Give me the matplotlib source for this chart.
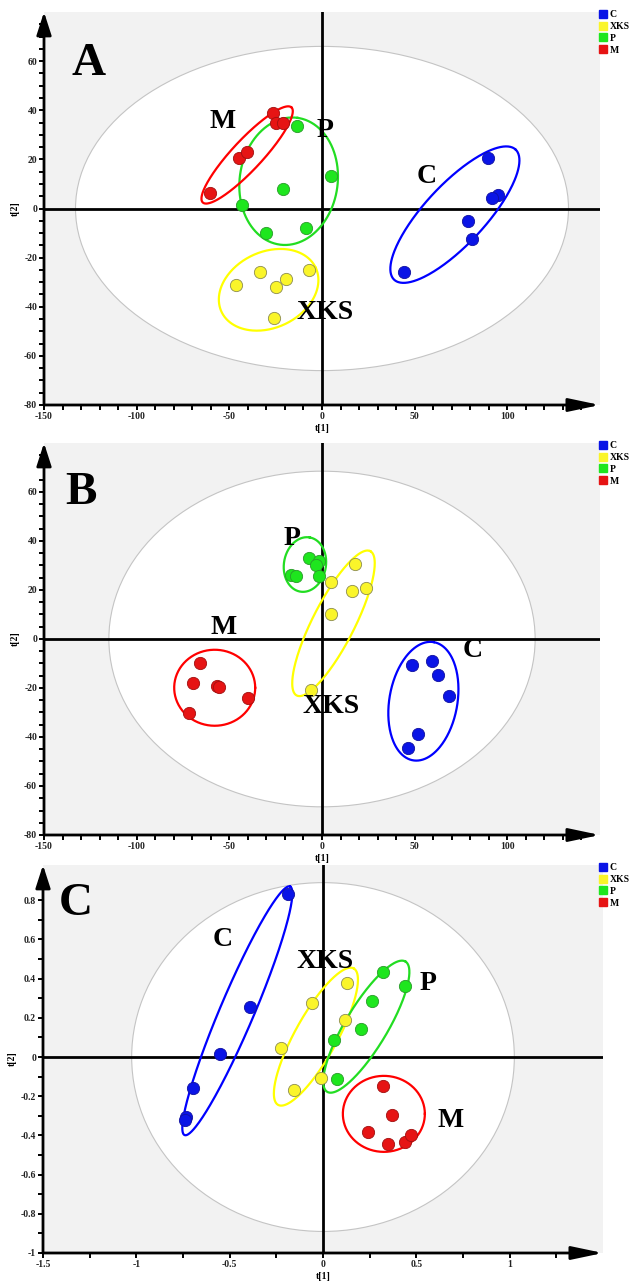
import numpy as np
import matplotlib
matplotlib.use("Agg")
import matplotlib.pyplot as plt
from matplotlib.patches import Ellipse
from matplotlib.lines import Line2D

plt.rcParams['font.family'] = ['Liberation Serif', 'DejaVu Serif']

# =================================================
# Data (scores)
# =================================================
groups = ["C", "XKS", "P", "M"]

# panel A
a_C_x = [89.7, 95.2, 91.9, 78.7, 80.9, 44.4]
a_C_y = [20.7, 5.6, 4.2, -5.0, -12.6, -25.7]
a_XKS_x = [-46.6, -33.6, -24.6, -19.6, -7.0, -25.7]
a_XKS_y = [-31.2, -25.7, -32.1, -28.9, -25.1, -44.7]
a_P_x = [-13.6, 4.8, -20.9, -42.9, -30.3, -8.8]
a_P_y = [33.6, 13.3, 8.1, 1.4, -9.8, -8.1]
a_M_x = [-60.4, -45.0, -40.2, -26.4, -24.6, -20.9]
a_M_y = [6.5, 20.7, 23.0, 38.7, 35.0, 35.0]

# panel B
b_C_x = [48.7, 59.2, 62.5, 68.4, 52.0, 46.6]
b_C_y = [-10.8, -8.8, -14.5, -23.4, -38.9, -44.4]
b_XKS_x = [17.7, 5.0, 16.0, 23.8, 5.0, -5.9]
b_XKS_y = [30.5, 23.4, 19.6, 20.7, 10.4, -21.0]
b_P_x = [-7.0, -1.5, -3.3, -16.8, -14.2, -1.5]
b_P_y = [33.2, 31.8, 30.2, 26.0, 25.7, 25.7]
b_M_x = [-65.8, -69.7, -56.6, -55.5, -39.8, -71.7]
b_M_y = [-9.8, -18.0, -19.0, -19.6, -24.0, -30.1]

# panel C
c_C_x = [-0.185, -0.391, -0.554, -0.696, -0.733, -0.737]
c_C_y = [0.834, 0.255, 0.014, -0.158, -0.306, -0.323]
c_XKS_x = [0.130, -0.059, 0.120, -0.224, -0.011, -0.157]
c_XKS_y = [0.380, 0.277, 0.187, 0.048, -0.106, -0.167]
c_P_x = [0.320, 0.441, 0.261, 0.202, 0.061, 0.076]
c_P_y = [0.434, 0.363, 0.284, 0.145, 0.085, -0.111]
c_M_x = [0.322, 0.370, 0.239, 0.348, 0.441, 0.474]
c_M_y = [-0.148, -0.298, -0.383, -0.443, -0.434, -0.397]

# group labels (x, y)
a_label_pos = {"C": (56.5, 12.9), "XKS": (1.8, -42.3), "P": (1.8, 31.6), "M": (-53.8, 35.6)}
b_label_pos = {"C": (81.5, -4.7), "XKS": (5.0, -27.4), "P": (-16.4, 41.0), "M": (-52.9, 4.7)}
c_label_pos = {"C": (-0.537, 0.601), "XKS": (0.011, 0.485), "P": (0.561, 0.374), "M": (0.685, -0.323)}

# group ellipses: centre (data), semi axes (px), angle (deg on screen)
a_ell = {"C": (71.7, -2.5, 89, 30, 47), "XKS": (-28.8, -33.1, 52, 38, 25),
         "P": (-18.0, 11.1, 64, 49, 82), "M": (-40.4, 21.8, 65, 15, 47)}
b_ell = {"C": (54.7, -25.4, 60, 34, 80), "XKS": (6.2, 6.4, 81, 21, 63),
         "P": (-9.2, 30.4, 27.5, 21, 80), "M": (-57.9, -19.9, 40.5, 38, 0)}
c_ell = {"C": (-0.459, 0.236, 135, 17, 67), "XKS": (-0.038, 0.104, 78, 21, 61),
         "P": (0.232, 0.155, 76, 21, 59), "M": (0.326, -0.290, 41, 38, 0)}

# Hotelling T2 ellipse half widths
a_t2 = (133, 66)
b_t2 = (115, 68.5)
c_t2 = (1.025, 0.89)

face = {"C": "#0a14e6", "XKS": "#faf52a", "P": "#1ee61e", "M": "#e61414"}
edge = {"C": "#1010a0", "XKS": "#8c8c50", "P": "#2a9a2a", "M": "#a01010"}
ring = {"C": "#0000ff", "XKS": "#ffff00", "P": "#22dd22", "M": "#ff0000"}

W, H = 632, 1281
fig = plt.figure(figsize=(W / 100, H / 100), dpi=100)
fig.patch.set_facecolor("white")


def add_ax(left, right, top, bottom):
    return fig.add_axes([left / W, 1 - bottom / H, (right - left) / W, (bottom - top) / H])


def draw_ellipse(ax, cx, cy, a, b, ang, color):
    # ellipse defined in screen pixels, mapped back to data
    t = np.linspace(0, 2 * np.pi, 300)
    px, py = ax.transData.transform((cx, cy))
    th = np.deg2rad(ang)
    ex = px + a * np.cos(t) * np.cos(th) - b * np.sin(t) * np.sin(th)
    ey = py + a * np.cos(t) * np.sin(th) + b * np.sin(t) * np.cos(th)
    d = ax.transData.inverted().transform(np.column_stack([ex, ey]))
    ax.plot(d[:, 0], d[:, 1], color=color, lw=1.6, zorder=2)


def panel(box, xlim, ylim, xmaj, xmin, ymaj, ymin, xfmt, yfmt, pts, lab_pos, ells, t2,
          letter, letter_pos, legend_top):
    ax = add_ax(*box)
    ax.set_xlim(*xlim)
    ax.set_ylim(*ylim)
    ax.set_facecolor("#f2f2f2")
    for s in ["top", "right", "left", "bottom"]:
        ax.spines[s].set_visible(False)

    ax.add_patch(Ellipse((0, 0), 2 * t2[0], 2 * t2[1], facecolor="white",
                         edgecolor="#c4c4c4", lw=0.8, zorder=0.5))
    ax.axhline(0, color="black", lw=2, zorder=1)
    ax.axvline(0, color="black", lw=2, zorder=1)

    # axes with arrow heads
    ax.annotate("", xy=(0, 1.0), xytext=(0, 0), xycoords="axes fraction",
                arrowprops=dict(arrowstyle="-|>,head_length=1.4,head_width=0.45",
                                color="black", lw=2, shrinkA=0, shrinkB=0), annotation_clip=False)
    ax.annotate("", xy=(1.0, 0), xytext=(0, 0), xycoords="axes fraction",
                arrowprops=dict(arrowstyle="-|>,head_length=1.9,head_width=0.4",
                                color="black", lw=2, shrinkA=0, shrinkB=0), annotation_clip=False)

    ax.set_xticks(xmaj)
    ax.set_xticks(xmin, minor=True)
    ax.set_yticks(ymaj)
    ax.set_yticks(ymin, minor=True)
    ax.set_xticklabels([xfmt(v) for v in xmaj])
    ax.set_yticklabels([yfmt(v) for v in ymaj])
    ax.tick_params(which="both", direction="out", length=3.5, width=1.4, color="black")
    ax.tick_params(labelsize=7, pad=1.5)
    for lb in ax.get_xticklabels() + ax.get_yticklabels():
        lb.set_fontweight("bold")
        lb.set_color("#222222")
    ax.set_xlabel("t[1]", fontsize=7, fontweight="bold", labelpad=2)
    ax.set_ylabel("t[2]", fontsize=7, fontweight="bold", labelpad=3)

    for g in groups:
        gx, gy = pts[g]
        ax.scatter(gx, gy, s=78, color=face[g], edgecolors=edge[g], linewidths=0.6, zorder=3)
        cx, cy, a, b, ang = ells[g]
        draw_ellipse(ax, cx, cy, a, b, ang, ring[g])
        lx, ly = lab_pos[g]
        ax.text(lx, ly, g, fontsize=20, fontweight="bold", ha="center", va="center", zorder=4)

    ax.text(letter_pos[0], letter_pos[1], letter, fontsize=34, fontweight="bold",
            ha="center", va="center", zorder=4)

    handles = [Line2D([], [], ls="", marker="s", markersize=6, markerfacecolor=face[g],
                      markeredgecolor=face[g]) for g in groups]
    fig.legend(handles, groups, loc="upper left", bbox_to_anchor=(599 / W, 1 - legend_top / H),
               frameon=False, handlelength=0.8, handletextpad=0.3,
               labelspacing=0.3, borderpad=0, borderaxespad=0,
               prop={"weight": "bold", "size": 7})
    return ax


def num_fmt(v):
    v = round(float(v), 2)
    if v == 0:
        return "0"
    return f"{v:g}"


panel((44, 600, 12, 405), (-150, 150), (-80, 80),
      np.arange(-150, 101, 50), np.arange(-150, 141, 10),
      np.arange(-80, 61, 20), np.arange(-80, 76, 5), num_fmt, num_fmt,
      {"C": (a_C_x, a_C_y), "XKS": (a_XKS_x, a_XKS_y), "P": (a_P_x, a_P_y), "M": (a_M_x, a_M_y)},
      a_label_pos, a_ell, a_t2, "A", (-126, 58.8), 10)

panel((44, 600, 443, 835), (-150, 150), (-80, 80),
      np.arange(-150, 101, 50), np.arange(-150, 141, 10),
      np.arange(-80, 61, 20), np.arange(-80, 76, 5), num_fmt, num_fmt,
      {"C": (b_C_x, b_C_y), "XKS": (b_XKS_x, b_XKS_y), "P": (b_P_x, b_P_y), "M": (b_M_x, b_M_y)},
      b_label_pos, b_ell, b_t2, "B", (-130, 59.7), 441)

panel((43, 603, 865, 1253), (-1.5, 1.5), (-1.0, 0.98),
      np.arange(-1.5, 1.01, 0.5), np.arange(-1.5, 1.26, 0.25),
      np.arange(-1.0, 0.81, 0.2), np.arange(-1.0, 0.91, 0.1), num_fmt, num_fmt,
      {"C": (c_C_x, c_C_y), "XKS": (c_XKS_x, c_XKS_y), "P": (c_P_x, c_P_y), "M": (c_M_x, c_M_y)},
      c_label_pos, c_ell, c_t2, "C", (-1.322, 0.783), 863)

fig.savefig("out.png", dpi=100)
